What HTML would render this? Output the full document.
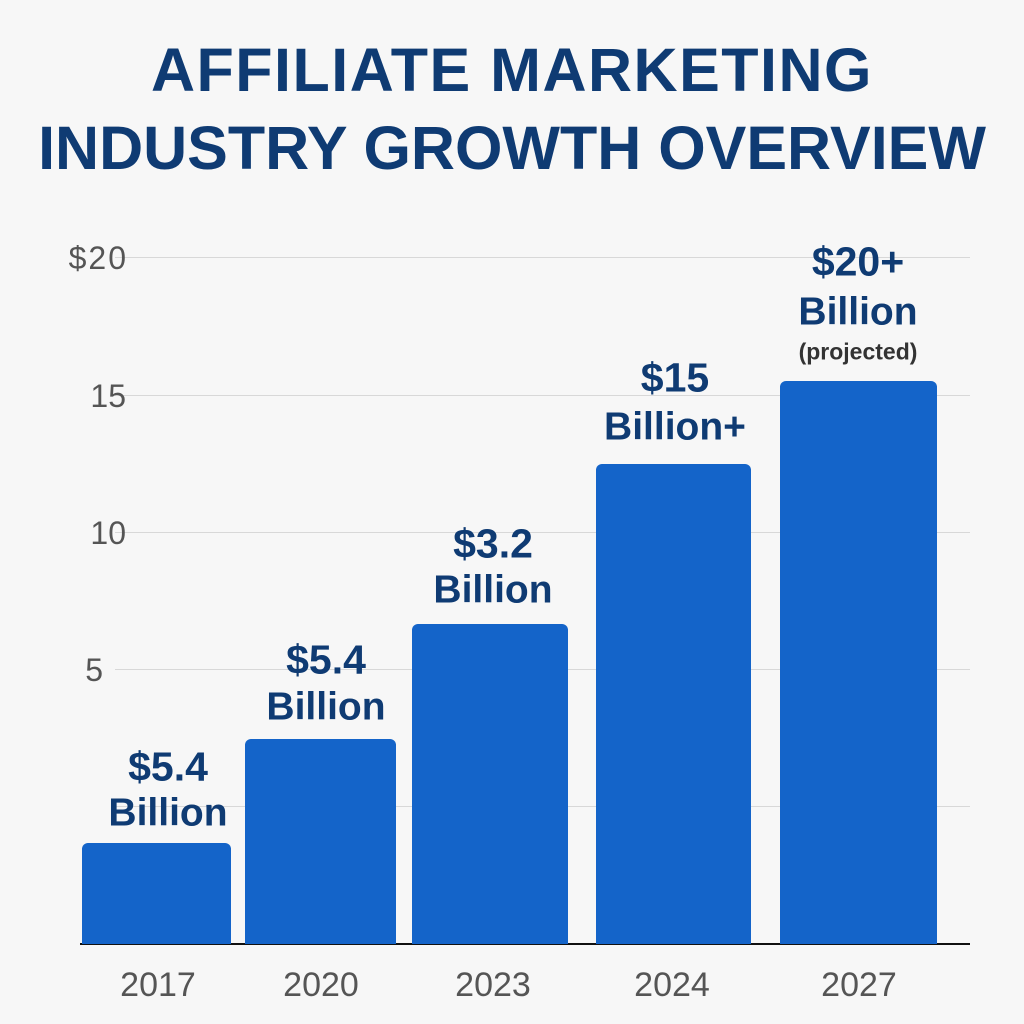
<!DOCTYPE html>
<html><head><meta charset="utf-8"><style>
body{margin:0;width:1024px;height:1024px;background:#f7f7f7;position:relative;overflow:hidden;font-family:"Liberation Sans",sans-serif}
.t{position:absolute;left:0;width:1024px;text-align:center;color:#0f3b73;font-weight:bold;font-size:61px;line-height:60px}
.g{position:absolute;left:115px;width:855px;height:1px;background:#d8d8d8}
.yl{position:absolute;color:#555;font-size:32px;line-height:32px;text-align:right;width:130px;left:0}
.bar{position:absolute;background:#1464c9;border-radius:6px 6px 0 0;bottom:80px}
.lb{position:absolute;color:#0f3b73;font-weight:bold;font-size:39px;line-height:39px;text-align:center;width:260px;transform:translate(-50%,-50%);white-space:nowrap}
.yr{position:absolute;top:985px;color:#555;font-size:34px;line-height:34px;width:200px;text-align:center;transform:translate(-50%,-50%)}
</style></head><body>
<div class="t" style="top:40px;letter-spacing:1.5px">AFFILIATE MARKETING</div>
<div class="t" style="top:118px">INDUSTRY GROWTH OVERVIEW</div>
<div class="g" style="top:257px"></div>
<div class="g" style="top:395px"></div>
<div class="g" style="top:532px"></div>
<div class="g" style="top:669px"></div>
<div class="g" style="top:806px"></div>
<div style="position:absolute;left:80px;width:890px;top:943px;height:2px;background:#111"></div>
<div class="yl" style="top:242px;width:128px;letter-spacing:2px">$20</div>
<div class="yl" style="top:380px;width:126px">15</div>
<div class="yl" style="top:517px;width:126px">10</div>
<div class="yl" style="top:654px;width:103px">5</div>
<div class="bar" style="left:82px;width:149px;top:843px"></div>
<div class="bar" style="left:245px;width:151px;top:739px"></div>
<div class="bar" style="left:412px;width:156px;top:624px"></div>
<div class="bar" style="left:596px;width:155px;top:464px"></div>
<div class="bar" style="left:780px;width:157px;top:381px"></div>
<div class="lb" style="left:168px;top:767px;font-size:41px">$5.4</div>
<div class="lb" style="left:168px;top:813px">Billion</div>
<div class="lb" style="left:326px;top:660px;font-size:41px">$5.4</div>
<div class="lb" style="left:326px;top:707px">Billion</div>
<div class="lb" style="left:493px;top:544px;font-size:41px">$3.2</div>
<div class="lb" style="left:493px;top:590px">Billion</div>
<div class="lb" style="left:675px;top:378px;font-size:41px">$15</div>
<div class="lb" style="left:675px;top:427px">Billion+</div>
<div class="lb" style="left:858px;top:262px;font-size:41px">$20+</div>
<div class="lb" style="left:858px;top:312px">Billion</div>
<div class="lb" style="left:858px;top:352px;font-size:23px;line-height:23px;color:#333">(projected)</div>
<div class="yr" style="left:158px">2017</div>
<div class="yr" style="left:321px">2020</div>
<div class="yr" style="left:493px">2023</div>
<div class="yr" style="left:672px">2024</div>
<div class="yr" style="left:859px">2027</div>
</body></html>
